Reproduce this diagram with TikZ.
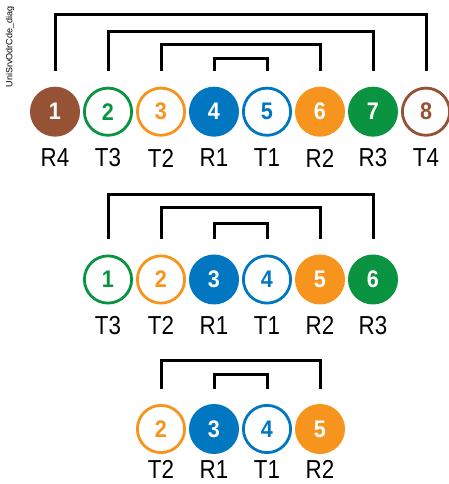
\documentclass[tikz,border=0pt]{standalone}
\usepackage{fontspec}
\setmainfont{Liberation Sans}
\newfontfamily\labfont[FakeStretch=0.86]{Liberation Sans}
\newfontfamily\numfont[FakeStretch=0.9]{Liberation Sans}
\definecolor{pbrown}{RGB}{150,82,52}
\definecolor{pgreen}{RGB}{10,148,66}
\definecolor{porange}{RGB}{247,148,30}
\definecolor{pblue}{RGB}{0,119,192}
\begin{document}
\begin{tikzpicture}[x=1pt,y=1pt,
  filled/.style={circle,fill=#1,draw=none,minimum size=50pt,inner sep=0pt,text=white,
    font=\numfont\fontsize{24}{24}\bfseries\selectfont},
  ring/.style={circle,fill=white,draw=#1,line width=2.8pt,minimum size=47.2pt,inner sep=0pt,text=#1,
    font=\numfont\fontsize{24}{24}\bfseries\selectfont},
  lab/.style={inner sep=0pt,font=\labfont\fontsize{26}{26}\selectfont},
  bracket/.style={draw=black,line width=3pt,line cap=butt,line join=miter},
]
\useasboundingbox (0,0) rectangle (449,484);
% top row
\foreach \i/\s/\c/\l in {1/filled/pbrown/R4,2/ring/pgreen/T3,3/ring/porange/T2,4/filled/pblue/R1,5/ring/pblue/T1,6/filled/porange/R2,7/filled/pgreen/R3,8/ring/pbrown/T4}{
  \node[\s=\c] (p\i) at ({55+53*(\i-1)},372.3) {\i};
  \node[lab] (pl\i) at ([yshift=-46.3pt]p\i.center) {\l};
}
\draw[bracket] ([yshift=15.7pt]p1.north) -- ++(0,56) -| ([yshift=15.7pt]p8.north);
\draw[bracket] ([yshift=15.7pt]p2.north) -- ++(0,39.3) -| ([yshift=15.7pt]p7.north);
\draw[bracket] ([yshift=15.7pt]p3.north) -- ++(0,26) -| ([yshift=15.7pt]p6.north);
\draw[bracket] ([yshift=15.7pt]p4.north) -- ++(0,12) -| ([yshift=15.7pt]p5.north);
% middle row
\foreach \i/\s/\c/\l in {1/ring/pgreen/T3,2/ring/porange/T2,3/filled/pblue/R1,4/ring/pblue/T1,5/filled/porange/R2,6/filled/pgreen/R3}{
  \node[\s=\c] (m\i) at ({108+53*(\i-1)},204.5) {\i};
  \node[lab] (ml\i) at ([yshift=-46pt]m\i.center) {\l};
}
\draw[bracket] ([yshift=15.5pt]m1.north) -- ++(0,44) -| ([yshift=15.5pt]m6.north);
\draw[bracket] ([yshift=15.5pt]m2.north) -- ++(0,31) -| ([yshift=15.5pt]m5.north);
\draw[bracket] ([yshift=15.5pt]m3.north) -- ++(0,15.7) -| ([yshift=15.5pt]m4.north);
% bottom row
\foreach \i/\s/\c/\l in {2/ring/porange/T2,3/filled/pblue/R1,4/ring/pblue/T1,5/filled/porange/R2}{
  \node[\s=\c] (b\i) at ({161+53*(\i-2)},55) {\i};
  \node[lab] (bl\i) at ([yshift=-40.5pt]b\i.center) {\l};
}
\draw[bracket] ([yshift=15pt]b2.north) -- ++(0,28.3) -| ([yshift=15pt]b5.north);
\draw[bracket] ([yshift=15pt]b3.north) -- ++(0,14) -| ([yshift=15pt]b4.north);
% side label
\node[rotate=90,inner sep=0pt,font=\fontsize{9}{9}\selectfont] (tag) at (10,437) {UniSrvOdrCde\_diag};
\end{tikzpicture}
\end{document}
